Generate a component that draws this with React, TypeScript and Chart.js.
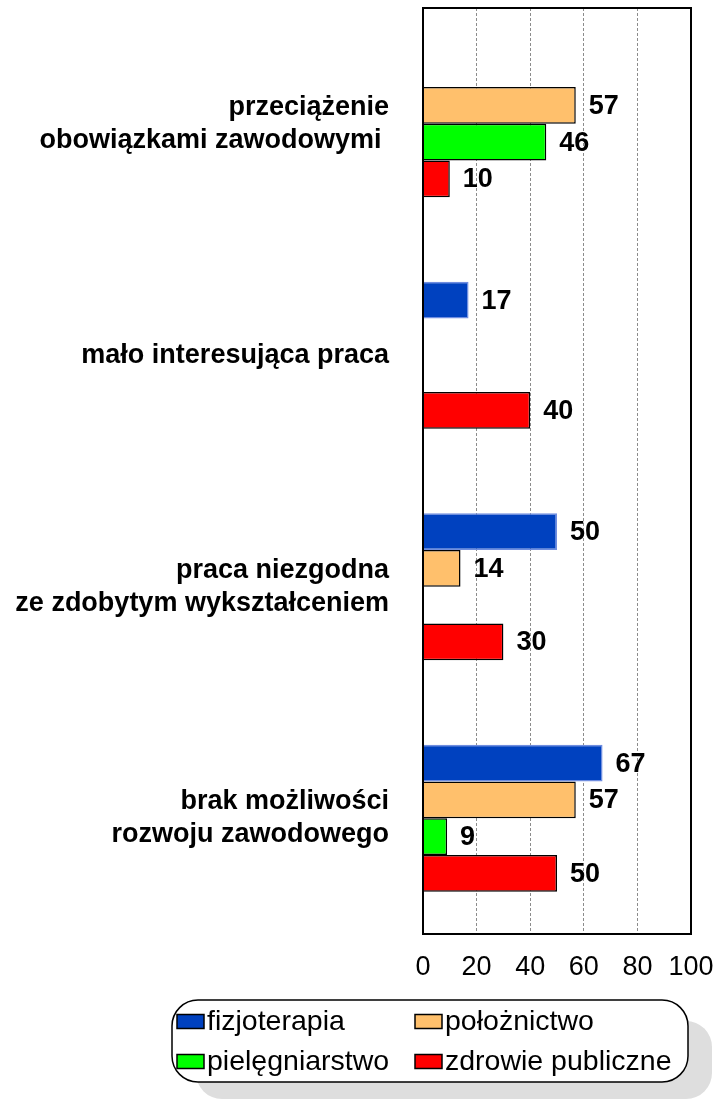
import React, { useEffect, useRef } from "react";
import { Chart, registerables } from "chart.js";

Chart.register(...registerables);

const categories: (string | string[])[] = [
  ["przeciążenie", "obowiązkami zawodowymi "],
  "mało interesująca praca",
  ["praca niezgodna", "ze zdobytym wykształceniem"],
  ["brak możliwości", "rozwoju zawodowego"],
];
const seriesNames = ["fizjoterapia", "położnictwo", "pielęgniarstwo", "zdrowie publiczne"];
const fizjoterapia = [null, 17, 50, 67];
const poloznictwo = [57, null, 14, 57];
const pielegniarstwo = [46, null, null, 9];
const zdrowiePubliczne = [10, 40, 30, 50];
const xMin = 0;
const xMax = 100;
const xStep = 20;
const seriesColors = ["#0041BF", "#FFC06C", "#00FF00", "#FF0000"];
const seriesBorders = ["#6F8DE0", "#000000", "#000000", "#000000"];

const FONT = 'Arial, "Liberation Sans", sans-serif';

const valueLabelPlugin = {
  id: "valueLabels",
  afterDatasetsDraw(chart: any) {
    const ctx = chart.ctx;
    const area = chart.chartArea;
    ctx.save();
    ctx.strokeStyle = "#000";
    ctx.lineWidth = 2;
    ctx.strokeRect(area.left, area.top, area.right - area.left, area.bottom - area.top);
    ctx.font = `bold 27px ${FONT}`;
    ctx.fillStyle = "#000";
    ctx.textAlign = "left";
    ctx.textBaseline = "middle";
    chart.data.datasets.forEach((ds: any, i: number) => {
      const meta = chart.getDatasetMeta(i);
      meta.data.forEach((bar: any, j: number) => {
        const v = ds.data[j];
        if (v === null || v === undefined) return;
        ctx.fillText(String(v), bar.x + 13, bar.y + 1);
      });
    });
    ctx.restore();
  },
};

const legendPlugin = {
  id: "boxLegend",
  afterDraw(chart: any) {
    const ctx = chart.ctx;
    const bx = 172, by = 1000, bw = 516, bh = 82, r = 26;
    const rr = (x: number, y: number, w: number, h: number) => {
      ctx.beginPath();
      ctx.moveTo(x + r, y);
      ctx.lineTo(x + w - r, y);
      ctx.arcTo(x + w, y, x + w, y + r, r);
      ctx.lineTo(x + w, y + h - r);
      ctx.arcTo(x + w, y + h, x + w - r, y + h, r);
      ctx.lineTo(x + r, y + h);
      ctx.arcTo(x, y + h, x, y + h - r, r);
      ctx.lineTo(x, y + r);
      ctx.arcTo(x, y, x + r, y, r);
      ctx.closePath();
    };
    ctx.save();
    ctx.fillStyle = "#DEDEDE";
    rr(bx + 24, by + 21, bw, bh - 4);
    ctx.fill();
    ctx.fillStyle = "#FFFFFF";
    rr(bx, by, bw, bh);
    ctx.fill();
    ctx.strokeStyle = "#000";
    ctx.lineWidth = 1.5;
    ctx.stroke();

    const cols = [177, 415];
    const rows = [1021.5, 1061.5];
    ctx.font = `28.5px ${FONT}`;
    ctx.textAlign = "left";
    ctx.textBaseline = "middle";
    chart.data.datasets.forEach((ds: any, i: number) => {
      const x = cols[i % 2];
      const y = rows[Math.floor(i / 2)];
      ctx.fillStyle = ds.backgroundColor;
      ctx.fillRect(x, y - 7, 27, 14);
      ctx.strokeStyle = "#000";
      ctx.lineWidth = 1.5;
      ctx.strokeRect(x, y - 7, 27, 14);
      ctx.fillStyle = "#000";
      ctx.fillText(ds.label, x + 30, y + 1);
    });
    ctx.restore();
  },
};

export default function App() {
  const canvasRef = useRef<HTMLCanvasElement | null>(null);

  useEffect(() => {
    const canvas = canvasRef.current;
    if (!canvas) return;
    const seriesData = [fizjoterapia, poloznictwo, pielegniarstwo, zdrowiePubliczne];
    const chart = new Chart(canvas, {
      type: "bar",
      data: {
        labels: categories,
        datasets: seriesNames.map((name, i) => ({
          label: name,
          data: seriesData[i],
          backgroundColor: seriesColors[i],
          borderColor: seriesBorders[i],
          borderWidth: 1.5,
          categoryPercentage: 0.635,
          barPercentage: 1,
        })),
      },
      options: {
        indexAxis: "y",
        responsive: false,
        animation: false,
        devicePixelRatio: 1,
        layout: { padding: { top: 8, right: 24, bottom: 108, left: 0 } },
        plugins: {
          legend: { display: false },
          tooltip: { enabled: false },
        },
        scales: {
          x: {
            min: xMin,
            max: xMax,
            afterFit: (scale: any) => {
              scale.height = 60;
              scale.paddingLeft = 0;
              scale.paddingRight = 0;
            },
            ticks: {
              stepSize: xStep,
              color: "#000",
              padding: 17,
              font: { family: FONT, size: 27 },
            },
            grid: {
              drawTicks: false,
              lineWidth: 1,
              color: (c: any) =>
                c.tick && (c.tick.value === xMin || c.tick.value === xMax)
                  ? "rgba(0,0,0,0)"
                  : "#8C8C8C",
            },
            border: { display: false, dash: [3, 2] },
          },
          y: {
            afterFit: (scale: any) => {
              scale.width = 423;
              scale.paddingTop = 0;
              scale.paddingBottom = 0;
            },
            ticks: {
              color: "#000",
              padding: 34,
              font: { family: FONT, size: 27, weight: "bold", lineHeight: 1.22 },
            },
            grid: { display: false, drawTicks: false },
            border: { display: false },
          },
        },
      },
      plugins: [valueLabelPlugin, legendPlugin],
    } as any);
    return () => chart.destroy();
  }, []);

  return (
    <div style={{ position: "absolute", left: 0, top: 0, width: 715, height: 1102 }}>
      <canvas ref={canvasRef} width={715} height={1102} />
    </div>
  );
}
